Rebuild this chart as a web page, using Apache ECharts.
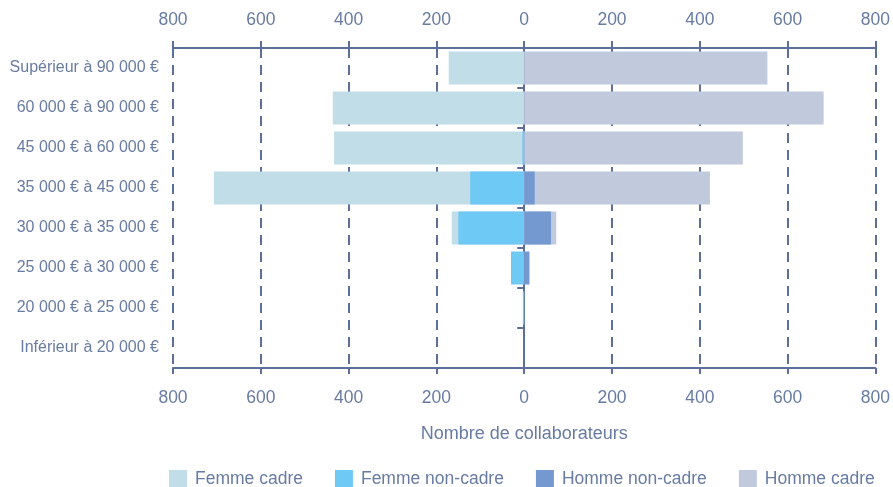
<!DOCTYPE html>
<html><head><meta charset="utf-8">
<script src="https://cdn.jsdelivr.net/npm/echarts@6/dist/echarts.min.js"></script>
<style>html,body{margin:0;padding:0;background:#fff}#c{width:893px;height:487px}</style>
</head><body><div id="c"></div>
<script>
const categories = ["Inférieur à 20 000 €","20 000 € à 25 000 €","25 000 € à 30 000 €","30 000 € à 35 000 €","35 000 € à 45 000 €","45 000 € à 60 000 €","60 000 € à 90 000 €","Supérieur à 90 000 €"];
const femmeCadre    = [0, 0, 0, 165, 707, 433, 436, 172];
const femmeNonCadre = [0, 3, 30, 150, 123, 4, 0, 0];
const hommeNonCadre = [0, 0, 12, 61, 24, 0, 0, 0];
const hommeCadre    = [0, 0, 0, 73, 423, 498, 682, 554];
const xTicks = [-800,-600,-400,-200,0,200,400,600,800];

const axisColor = '#5c6f9a';
const textColor = '#687ba2';
const font = 'Liberation Sans';
const neg = a => a.map(v => -v);

const chart = echarts.init(document.getElementById('c'), null, {renderer:'canvas'});
const labelCfg = (m) => ({color:textColor, fontFamily:font, fontSize:17.5, margin:m, formatter: v => String(Math.abs(v))});
chart.setOption({
  animation:false,
  textStyle:{fontFamily:font},
  grid:{left:173, right:15, top:48, bottom:119, containLabel:false},
  xAxis:[
    {type:'value', position:'bottom', min:xTicks[0], max:xTicks[xTicks.length-1], interval:200,
     name:'Nombre de collaborateurs', nameLocation:'middle', nameGap:57,
     nameTextStyle:{color:textColor, fontFamily:font, fontSize:18},
     axisLine:{show:true, onZero:false, lineStyle:{color:axisColor, width:2}},
     axisTick:{show:true, length:6, lineStyle:{color:axisColor, width:2}},
     axisLabel:labelCfg(21),
     splitLine:{show:true, lineStyle:{color:axisColor, width:2, type:[10,7]}}},
    {type:'value', position:'top', min:xTicks[0], max:xTicks[xTicks.length-1], interval:200,
     axisLine:{show:true, onZero:false, lineStyle:{color:axisColor, width:2}},
     axisTick:{show:true, length:7, lineStyle:{color:axisColor, width:2}},
     axisLabel:labelCfg(19),
     splitLine:{show:false}}
  ],
  yAxis:[
    {type:'category', data:categories, position:'left',
     axisLine:{show:false, onZero:false}, axisTick:{show:false},
     axisLabel:{color:textColor, fontFamily:font, fontSize:16, margin:14}},
    {type:'category', data:categories, position:'left',
     axisLine:{show:true, onZero:true, lineStyle:{color:axisColor, width:2}},
     axisTick:{show:true, length:7, lineStyle:{color:axisColor, width:2}},
     axisLabel:{show:false}}
  ],
  legend:{
    left:164, top:465, itemWidth:18, itemHeight:18, itemGap:32, icon:'rect',
    textStyle:{color:textColor, fontFamily:font, fontSize:17.5, padding:[0,0,0,3]},
    data:['Femme cadre','Femme non-cadre','Homme non-cadre','Homme cadre']
  },
  series:[
    {name:'Femme cadre', type:'bar', data:neg(femmeCadre), barWidth:33, barGap:'-100%', z:2,
     itemStyle:{color:'#c1dde8'}},
    {name:'Femme non-cadre', type:'bar', data:neg(femmeNonCadre), barWidth:33, barGap:'-100%', z:3,
     itemStyle:{color:'#6ec9f4'}},
    {name:'Homme non-cadre', type:'bar', data:hommeNonCadre, barWidth:33, barGap:'-100%', z:4,
     itemStyle:{color:'#7399d0'}},
    {name:'Homme cadre', type:'bar', data:hommeCadre, barWidth:33, barGap:'-100%', z:2,
     itemStyle:{color:'#c0cadc'}}
  ]
});
</script></body></html>
